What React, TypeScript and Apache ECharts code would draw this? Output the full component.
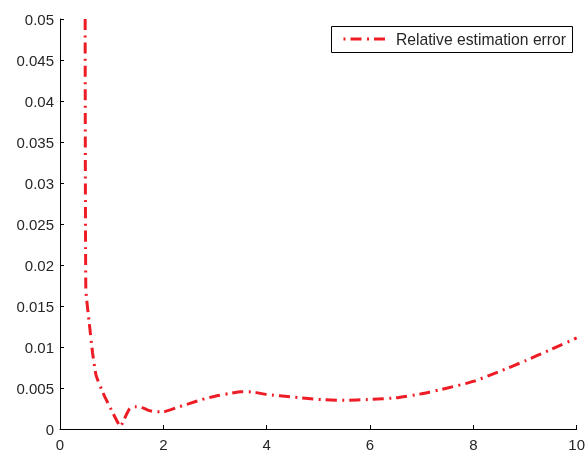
import React, { useEffect, useRef } from "react";
import * as echarts from "echarts";

const xValues = [0.487, 0.5, 0.56, 0.63, 0.7, 0.8, 0.87, 0.95, 1.06, 1.17, 1.25, 1.35, 1.45, 1.55, 1.7, 1.85, 2.0, 2.25, 2.5, 2.75, 3.0, 3.25, 3.5, 3.75, 4.0, 4.5, 5.0, 5.5, 6.0, 6.5, 7.0, 7.5, 8.0, 8.5, 9.0, 9.5, 10];
const errorValues = [0.05, 0.017, 0.0133, 0.0093, 0.0065, 0.0049, 0.0039, 0.0029, 0.0015, 0.0003, 0.0013, 0.0025, 0.0027, 0.0027, 0.0023, 0.0021, 0.0021, 0.0026, 0.0031, 0.0036, 0.004, 0.0043, 0.00455, 0.0045, 0.0042, 0.0039, 0.0036, 0.0035, 0.0036, 0.0038, 0.0043, 0.005, 0.0058, 0.007, 0.0083, 0.0097, 0.0111];
const seriesName = "Relative estimation error";

const RED = "#ee1c25";
const DASH = [11, 5.5, 2, 5];

export default function App() {
  const ref = useRef<HTMLDivElement>(null);
  useEffect(() => {
    const chart = echarts.init(ref.current!, null, { renderer: "svg" });
    const textStyle = { fontFamily: "Liberation Sans", fontSize: 15, color: "#262626" };
    chart.setOption({
      animation: false,
      grid: { left: 60, right: 8, top: 19, bottom: 26 },
      graphic: [
        {
          type: "group",
          left: 331,
          top: 26,
          children: [
            {
              type: "rect",
              shape: { x: 0.5, y: 0.5, width: 241, height: 26 },
              style: { fill: "#fff", stroke: "#000", lineWidth: 1 },
            },
            {
              type: "line",
              shape: { x1: 9, y1: 13, x2: 58, y2: 13 },
              style: { stroke: RED, lineWidth: 3, lineDash: DASH, lineDashOffset: 13 },
            },
            {
              type: "text",
              x: 65,
              y: 13.5,
              style: {
                text: seriesName,
                fontFamily: "Liberation Sans",
                fontSize: 15.7,
                fill: "#262626",
                verticalAlign: "middle",
              },
            },
          ],
        },
      ],
      xAxis: {
        type: "value",
        min: 0,
        max: 10,
        interval: 2,
        splitLine: { show: false },
        axisLine: { lineStyle: { color: "#000", width: 1 } },
        axisTick: { inside: true, length: 4, lineStyle: { color: "#000" } },
        axisLabel: { ...textStyle, margin: 8 },
      },
      yAxis: {
        type: "value",
        min: 0,
        max: 0.05,
        interval: 0.005,
        splitLine: { show: false },
        axisLine: { show: true, lineStyle: { color: "#000", width: 1 } },
        axisTick: { show: true, inside: true, length: 4, lineStyle: { color: "#000" } },
        axisLabel: { ...textStyle, margin: 6 },
      },
      series: [
        {
          name: seriesName,
          type: "line",
          data: xValues.map((x, i) => [x, errorValues[i]]),
          smooth: 0.15,
          showSymbol: false,
          symbol: "none",
          clip: true,
          lineStyle: { color: RED, width: 3, type: DASH },
          itemStyle: { color: RED },
        },
      ],
    });
    return () => chart.dispose();
  }, []);
  return <div ref={ref} style={{ width: 588, height: 455, position: "fixed", left: 0, top: 0 }} />;
}
